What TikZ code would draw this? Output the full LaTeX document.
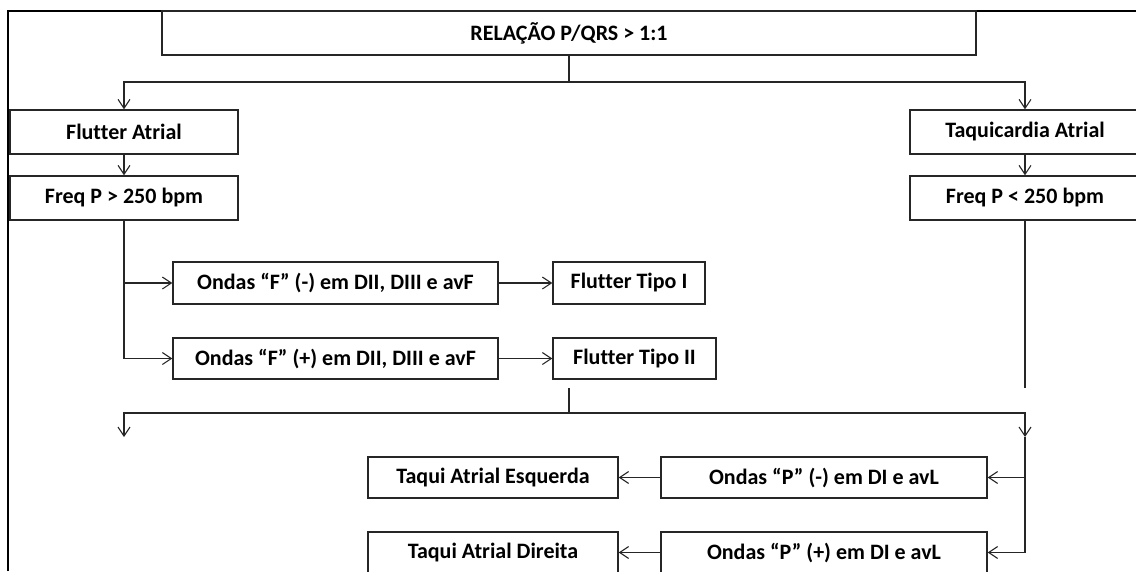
\documentclass[tikz,border=0pt]{standalone}
\usepackage{fontspec}
\setmainfont{Carlito}[Ligatures=NoCommon]
\usetikzlibrary{arrows.meta}
\begin{document}
\begin{tikzpicture}[x=1pt,y=-1pt,
  box/.style={draw=black!85,line width=1.3pt,inner sep=0pt,font=\fontsize{22}{26}\selectfont\bfseries},
  conn/.style={draw=black!85,line width=1.1pt},
  arr/.style={conn,-{Straight Barb[length=9pt,width=12pt,line width=1.1pt]}}]
\useasboundingbox (0,0) rectangle (1136,571);
\clip (0,0) rectangle (1136,571);
% frame
\draw[line width=2.4pt] (8,571) -- (8,11) -- (1140,11);
% nodes
\node[box,minimum width=814pt,minimum height=44pt] (top) at (569,33) {RELAÇÃO P/QRS > 1:1};
\node[box,minimum width=228pt,minimum height=44pt] (fa) at (124,132) {Flutter Atrial};
\node[box,minimum width=228pt,minimum height=44pt] (fp1) at (124,198) {Freq P > 250 bpm};
\node[box,minimum width=230pt,minimum height=44pt] (ta) at (1025,132) {Taquicardia Atrial};
\node[box,minimum width=230pt,minimum height=44pt] (fp2) at (1025,198) {Freq P < 250 bpm};
\node[box,minimum width=325pt,minimum height=42pt] (of1) at (335.5,283) {Ondas “F” (-) em DII, DIII e avF};
\node[box,minimum width=152pt,minimum height=42pt] (ft1) at (629,283) {Flutter Tipo I};
\node[box,minimum width=325pt,minimum height=41pt] (of2) at (335.5,358.5) {Ondas “F” (+) em DII, DIII e avF};
\node[box,minimum width=163pt,minimum height=41pt] (ft2) at (634.5,358.5) {Flutter Tipo II};
\node[box,minimum width=326pt,minimum height=41pt] (pe1) at (824,477.5) {Ondas “P” (-) em DI e avL};
\node[box,minimum width=250pt,minimum height=41pt] (te) at (493,477.5) {Taqui Atrial Esquerda};
\node[box,minimum width=326pt,minimum height=41pt] (pe2) at (824,552.5) {Ondas “P” (+) em DI e avL};
\node[box,minimum width=250pt,minimum height=41pt] (td) at (493,552.5) {Taqui Atrial Direita};
% coordinates
\coordinate (j1) at (569,82);
\coordinate (rend) at (1025,388);
\coordinate (s2) at (569,388);
\coordinate (j2) at (569,413);
\coordinate (lend) at (124,437);
\coordinate (rmid) at (1025,437);
% connectors
\draw[conn] (top.south) -- (j1);
\draw[arr] (j1) -| (fa.north);
\draw[arr] (j1) -| (ta.north);
\draw[arr] (fa.south) -- (fp1.north);
\draw[arr] (ta.south) -- (fp2.north);
\draw[arr] (fp1.south) |- (of1.west);
\draw[arr] (fp1.south) |- (of2.west);
\draw[arr] (of1.east) -- (ft1.west);
\draw[arr] (of2.east) -- (ft2.west);
\draw[conn] (fp2.south) -- (rend);
\draw[conn] (s2) -- (j2);
\draw[arr] (j2) -| (lend);
\draw[arr] (j2) -| (rmid);
\draw[arr] (rmid) |- (pe1.east);
\draw[arr] (rmid) |- (pe2.east);
\draw[arr] (pe1.west) -- (te.east);
\draw[arr] (pe2.west) -- (td.east);
\end{tikzpicture}
\end{document}
